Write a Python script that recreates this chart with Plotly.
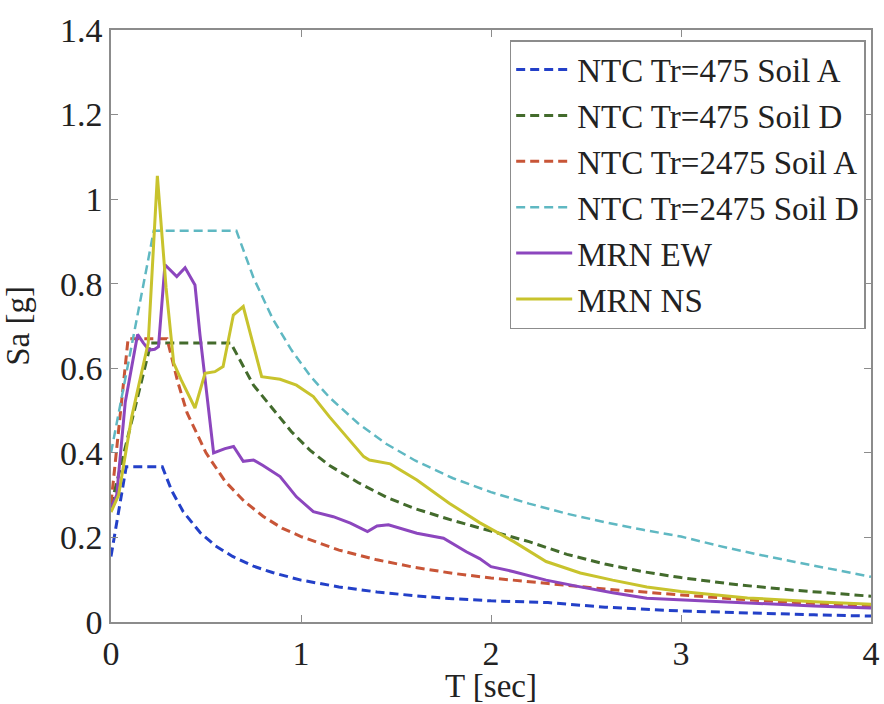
import plotly.graph_objects as go

# NTC design spectra: period T [s] and spectral acceleration Sa [g]
t_475_a = [0.0, 0.08, 0.27, 0.32, 0.38, 0.47, 0.55, 0.64, 0.75, 0.85, 1.0, 1.2, 1.4,
           1.6, 1.8, 2.0, 2.3, 2.6, 3.0, 3.4, 3.7, 4.0]
sa_475_a = [0.155, 0.367, 0.367, 0.31, 0.261, 0.211, 0.18, 0.155, 0.132, 0.117, 0.099,
            0.083, 0.071, 0.062, 0.055, 0.050, 0.046, 0.035, 0.026, 0.020, 0.017, 0.014]

t_475_d = [0.0, 0.21, 0.63, 0.75, 0.85, 0.95, 1.05, 1.15, 1.3, 1.45, 1.6, 1.8, 2.0,
           2.2, 2.4, 2.6, 2.8, 3.0, 3.3, 3.6, 4.0]
sa_475_d = [0.275, 0.66, 0.66, 0.56, 0.505, 0.45, 0.405, 0.37, 0.33, 0.295, 0.268, 0.24,
            0.215, 0.19, 0.16, 0.137, 0.119, 0.105, 0.088, 0.075, 0.061]

t_2475_a = [0.0, 0.09, 0.295, 0.35, 0.4, 0.5, 0.6, 0.7, 0.8, 0.9, 1.0, 1.2, 1.4, 1.6,
            1.8, 2.0, 2.3, 2.6, 3.0, 3.3, 3.6, 4.0]
sa_2475_a = [0.28, 0.67, 0.67, 0.57, 0.495, 0.40, 0.333, 0.286, 0.25, 0.222, 0.202,
             0.17, 0.147, 0.129, 0.115, 0.104, 0.091, 0.078, 0.064, 0.054, 0.046, 0.037]

t_2475_d = [0.0, 0.225, 0.66, 0.75, 0.85, 0.95, 1.05, 1.15, 1.3, 1.45, 1.6, 1.8, 2.0,
            2.2, 2.4, 2.6, 2.8, 3.0, 3.2, 3.4, 3.6, 3.8, 4.0]
sa_2475_d = [0.40, 0.925, 0.925, 0.814, 0.718, 0.643, 0.581, 0.531, 0.47, 0.421, 0.382,
             0.34, 0.307, 0.28, 0.256, 0.236, 0.218, 0.202, 0.18, 0.16, 0.142, 0.125, 0.107]

# Recorded spectra at station MRN
t_ew = [0.0, 0.03, 0.075, 0.14, 0.17, 0.2, 0.23, 0.25, 0.284, 0.346, 0.39, 0.442, 0.468,
        0.54, 0.6, 0.645, 0.696, 0.75, 0.8, 0.89, 0.976, 1.065, 1.17, 1.26, 1.35, 1.40,
        1.46, 1.61, 1.75, 1.87, 1.94, 2.0, 2.12, 2.29, 2.47, 2.64, 2.82, 3.0, 3.35, 3.7, 4.0]
sa_ew = [0.27, 0.30, 0.52, 0.68, 0.66, 0.643, 0.645, 0.651, 0.845, 0.817, 0.838, 0.797,
         0.68, 0.40, 0.41, 0.415, 0.38, 0.383, 0.37, 0.344, 0.296, 0.261, 0.249, 0.234,
         0.214, 0.227, 0.23, 0.21, 0.198, 0.166, 0.15, 0.131, 0.119, 0.099, 0.083, 0.069,
         0.056, 0.052, 0.045, 0.038, 0.033]

t_ns = [0.0, 0.04, 0.109, 0.144, 0.18, 0.196, 0.244, 0.29, 0.33, 0.37, 0.442, 0.495,
        0.547, 0.59, 0.644, 0.696, 0.793, 0.89, 0.976, 1.065, 1.15, 1.24, 1.33, 1.36,
        1.42, 1.47, 1.61, 1.78, 1.94, 2.0, 2.12, 2.29, 2.47, 2.64, 2.82, 3.0, 3.35, 3.7, 4.0]
sa_ns = [0.26, 0.30, 0.485, 0.556, 0.63, 0.66, 1.055, 0.79, 0.612, 0.572, 0.506, 0.588,
         0.592, 0.604, 0.726, 0.746, 0.58, 0.574, 0.56, 0.533, 0.485, 0.438, 0.391, 0.383,
         0.379, 0.374, 0.336, 0.281, 0.235, 0.22, 0.19, 0.143, 0.116, 0.099, 0.083, 0.072,
         0.057, 0.048, 0.042]

x_ticks = [0, 1, 2, 3, 4]
y_ticks = [0, 0.2, 0.4, 0.6, 0.8, 1.0, 1.2, 1.4]
y_tick_text = ["0", "0.2", "0.4", "0.6", "0.8", "1", "1.2", "1.4"]

series = [
    ("NTC Tr=475 Soil A", t_475_a, sa_475_a, "#2340c8", "9px,5px", 3),
    ("NTC Tr=475 Soil D", t_475_d, sa_475_d, "#436b2c", "9px,5px", 3),
    ("NTC Tr=2475 Soil A", t_2475_a, sa_2475_a, "#c85537", "9px,5px", 3),
    ("NTC Tr=2475 Soil D", t_2475_d, sa_2475_d, "#5fb8c2", "9px,5px", 2.5),
    ("MRN EW", t_ew, sa_ew, "#8c46be", "solid", 3),
    ("MRN NS", t_ns, sa_ns, "#c8c32d", "solid", 3),
]

fig = go.Figure()
for name, t, sa, color, dash, width in series:
    fig.add_trace(go.Scatter(
        x=t, y=sa, mode="lines", name=name,
        line=dict(color=color, dash=dash, width=width),
    ))

font_family = "Liberation Serif, Times New Roman, serif"
axis_common = dict(
    showline=True, linecolor="#8c8c8c", linewidth=1.5, mirror="ticks",
    ticks="inside", ticklen=7, tickwidth=1.2, tickcolor="#8c8c8c",
    showgrid=False, zeroline=False, automargin=False,
    tickfont=dict(family=font_family, size=34, color="#222"),
)

fig.update_layout(
    width=884, height=704,
    margin=dict(l=111, r=13, t=30, b=82),
    paper_bgcolor="white", plot_bgcolor="white",
    font=dict(family=font_family, size=32, color="#222"),
    xaxis=dict(range=[0, 4], tickvals=x_ticks,
               title=dict(text="T [sec]", font=dict(size=33), standoff=6),
               **axis_common),
    yaxis=dict(range=[0, 1.4], tickvals=y_ticks, ticktext=y_tick_text,
               title=dict(text="Sa [g]", font=dict(size=33), standoff=22),
               **axis_common),
    legend=dict(
        x=0.993, y=0.983, xanchor="right", yanchor="top",
        bgcolor="white", bordercolor="#8c8c8c", borderwidth=1.5,
        font=dict(family=font_family, size=33, color="#222"),
        itemwidth=56, tracegroupgap=0,
    ),
    showlegend=True,
)

fig.write_html("out.html")
